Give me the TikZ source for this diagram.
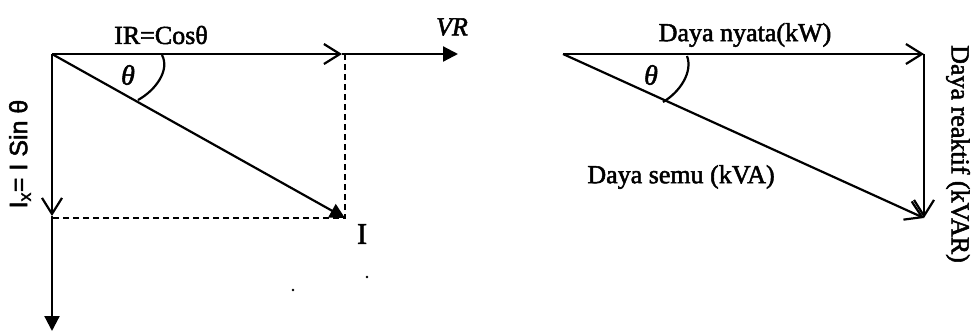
\documentclass[tikz,border=0pt]{standalone}
\usepackage{fontspec}
\setmainfont{Liberation Serif}[FakeBold=2]
\newfontfamily\sansf{Liberation Sans}[FakeBold=2]
\usetikzlibrary{arrows.meta}
\begin{document}
\begin{tikzpicture}[x=1pt,y=-1pt,
  vec/.style={line width=2.2pt},
  open/.style={-{Straight Barb[length=16pt,width=20pt,line width=2.2pt]}},
  solidtip/.style={-{Triangle[length=15pt,width=15pt]}},
  guide/.style={line width=2.2pt, dash pattern=on 6pt off 4pt},
  lbl/.style={inner sep=0pt, font=\fontsize{26}{28}\selectfont},
  dot/.style={fill=black},
]
\useasboundingbox (0,0) rectangle (973,333);
% ---------- left diagram ----------
\coordinate (O) at (52,54);
\coordinate (Ac) at (342,54);
\coordinate (Cx) at (345,54);
\coordinate (Vr) at (458,54);
\coordinate (Ip) at (345,218);
\coordinate (Is) at (52,216);
\coordinate (Cy) at (52,218);
\coordinate (Bot) at (52,331);
\draw[guide] (Cx) -- (Ip) -- (Cy);
\draw[vec,open] (O) -- (Ac);
\draw[vec,solidtip] (Ac) -- (Vr);
\draw[vec,solidtip] (O) -- (Ip);
\draw[vec,open] (O) -- (Is);
\draw[vec,solidtip] (Is) -- (Bot);
\draw[vec] (162,55) .. controls (170,70) and (156,90) .. (138,100);
\node[lbl] (tIR) at (161,35) {IR=Cosθ};
\node[lbl,font=\fontsize{26}{28}\selectfont\itshape] (tVR) at (452,27) {VR};
\node[lbl,font=\fontsize{30}{32}\selectfont] (tI) at (362,234) {I};
\node[lbl,font=\fontsize{28}{30}\selectfont\itshape] (tth1) at (128,75) {θ};
\node[lbl,rotate=90,font=\fontsize{25}{28}\selectfont\sansf] (tIx) at (20,154) {I\textsubscript{x}= I Sin θ};
\fill[dot] (367,277) circle (1.4);
\fill[dot] (293,290) circle (1.4);
% ---------- right diagram ----------
\coordinate (P) at (563,54);
\coordinate (Q) at (924,54);
\coordinate (R) at (924,218);
\draw[vec,open] (P) -- (Q);
\draw[vec,open] (Q) -- (R);
\draw[vec,open] (P) -- (R);
\draw[vec] (687,56) .. controls (693,72) and (680,92) .. (663,102);
\node[lbl] (tDN) at (745,35) {Daya nyata(kW)};
\node[lbl] (tDS) at (681,177) {Daya semu (kVA)};
\node[lbl,rotate=-90] (tDR) at (958,154) {Daya reaktif (kVAR)};
\node[lbl,font=\fontsize{28}{30}\selectfont\itshape] (tth2) at (651,75) {θ};
\end{tikzpicture}
\end{document}
